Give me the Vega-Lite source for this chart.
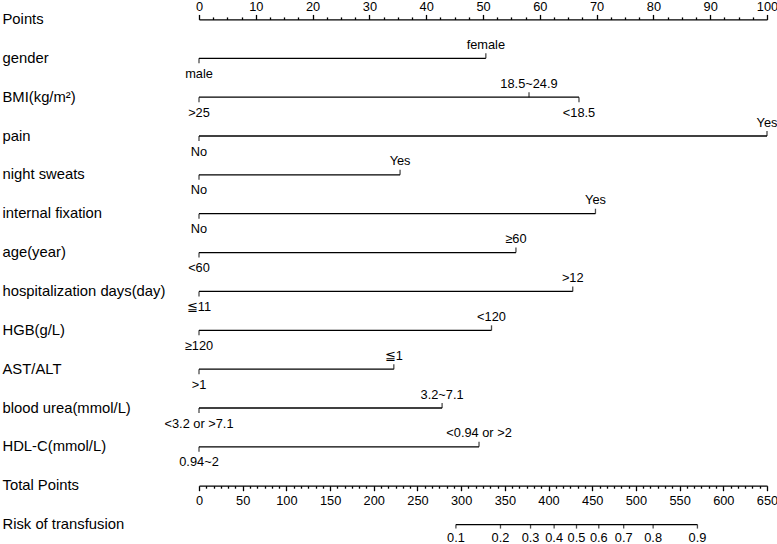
{
  "$schema": "https://vega.github.io/schema/vega-lite/v6.json",
  "width": 568,
  "height": 544,
  "autosize": {"type": "none"},
  "padding": {"left": 199, "right": 10, "top": 0, "bottom": 0},
  "background": "white",
  "config": {"view": {"stroke": null}, "font": "Liberation Sans"},
  "datasets": {
    "levels": [
      {"row": "gender", "level": "male", "points": 0, "side": "below"},
      {"row": "gender", "level": "female", "points": 50.5, "side": "above"},
      {"row": "BMI(kg/m²)", "level": ">25", "points": 0, "side": "below"},
      {"row": "BMI(kg/m²)", "level": "18.5~24.9", "points": 58.1, "side": "above"},
      {"row": "BMI(kg/m²)", "level": "<18.5", "points": 66.9, "side": "below"},
      {"row": "pain", "level": "No", "points": 0, "side": "below"},
      {"row": "pain", "level": "Yes", "points": 100, "side": "above"},
      {"row": "night sweats", "level": "No", "points": 0, "side": "below"},
      {"row": "night sweats", "level": "Yes", "points": 35.4, "side": "above"},
      {"row": "internal fixation", "level": "No", "points": 0, "side": "below"},
      {"row": "internal fixation", "level": "Yes", "points": 69.8, "side": "above"},
      {"row": "age(year)", "level": "<60", "points": 0, "side": "below"},
      {"row": "age(year)", "level": "≥60", "points": 55.8, "side": "above"},
      {"row": "hospitalization days(day)", "level": "≦11", "points": 0, "side": "below"},
      {"row": "hospitalization days(day)", "level": ">12", "points": 65.8, "side": "above"},
      {"row": "HGB(g/L)", "level": "≥120", "points": 0, "side": "below"},
      {"row": "HGB(g/L)", "level": "<120", "points": 51.5, "side": "above"},
      {"row": "AST/ALT", "level": ">1", "points": 0, "side": "below"},
      {"row": "AST/ALT", "level": "≦1", "points": 34.3, "side": "above"},
      {"row": "blood urea(mmol/L)", "level": "<3.2 or >7.1", "points": 0, "side": "below"},
      {"row": "blood urea(mmol/L)", "level": "3.2~7.1", "points": 42.8, "side": "above"},
      {"row": "HDL-C(mmol/L)", "level": "0.94~2", "points": 0, "side": "below"},
      {"row": "HDL-C(mmol/L)", "level": "<0.94 or >2", "points": 49.3, "side": "above"}
    ],
    "risk": [
      {"row": "Risk of transfusion", "risk": "0.1", "total": 294},
      {"row": "Risk of transfusion", "risk": "0.2", "total": 345},
      {"row": "Risk of transfusion", "risk": "0.3", "total": 379.4},
      {"row": "Risk of transfusion", "risk": "0.4", "total": 406.4},
      {"row": "Risk of transfusion", "risk": "0.5", "total": 432},
      {"row": "Risk of transfusion", "risk": "0.6", "total": 457.5},
      {"row": "Risk of transfusion", "risk": "0.7", "total": 486},
      {"row": "Risk of transfusion", "risk": "0.8", "total": 519.7},
      {"row": "Risk of transfusion", "risk": "0.9", "total": 570.4}
    ]
  },
  "encoding": {
    "y": {
      "field": "row",
      "type": "nominal",
      "scale": {
        "type": "point",
        "padding": 0.5,
        "domain": ["Points", "gender", "BMI(kg/m²)", "pain", "night sweats", "internal fixation", "age(year)", "hospitalization days(day)", "HGB(g/L)", "AST/ALT", "blood urea(mmol/L)", "HDL-C(mmol/L)", "Total Points", "Risk of transfusion"]
      },
      "axis": {
        "orient": "left",
        "title": null,
        "domain": false,
        "ticks": false,
        "tickSize": 0,
        "grid": false,
        "labelAlign": "left",
        "labelBaseline": "middle",
        "labelPadding": 197,
        "labelFont": "Liberation Sans",
        "labelFontSize": 14.8,
        "labelColor": "black",
        "labelLimit": 400
      }
    }
  },
  "layer": [
    {
      "data": {"name": "levels"},
      "mark": {"type": "rule", "color": "black", "strokeWidth": 1.3},
      "encoding": {
        "x": {
          "aggregate": "min",
          "field": "points",
          "type": "quantitative",
          "scale": {"domain": [0, 100], "nice": false, "zero": false},
          "axis": {
            "orient": "top",
            "offset": -19.43,
            "title": null,
            "grid": false,
            "values": [0, 2.5, 5, 7.5, 10, 12.5, 15, 17.5, 20, 22.5, 25, 27.5, 30, 32.5, 35, 37.5, 40, 42.5, 45, 47.5, 50, 52.5, 55, 57.5, 60, 62.5, 65, 67.5, 70, 72.5, 75, 77.5, 80, 82.5, 85, 87.5, 90, 92.5, 95, 97.5, 100],
            "tickSize": {"condition": {"test": "datum.value % 10 === 0", "value": 5}, "value": 2.5},
            "labelExpr": "datum.value % 10 === 0 ? format(datum.value, 'd') : ''",
            "labelPadding": 0.8,
            "labelFont": "Liberation Sans",
            "labelFontSize": 12.8,
            "labelColor": "black",
            "labelFlush": false,
            "labelOverlap": false,
            "labelBound": false,
            "domainColor": "black",
            "domainWidth": 1.3,
            "tickColor": "black",
            "tickWidth": 1.3
          }
        },
        "x2": {"aggregate": "max", "field": "points"}
      }
    },
    {
      "data": {"name": "levels"},
      "transform": [{"filter": "datum.side === 'below'"}],
      "mark": {"type": "tick", "orient": "vertical", "color": "black", "size": 5, "thickness": 1.3, "yOffset": 2.5},
      "encoding": {
        "x": {"field": "points", "type": "quantitative", "scale": {"domain": [0, 100], "nice": false, "zero": false}, "axis": null}
      }
    },
    {
      "data": {"name": "levels"},
      "transform": [{"filter": "datum.side === 'above'"}],
      "mark": {"type": "tick", "orient": "vertical", "color": "black", "size": 5, "thickness": 1.3, "yOffset": -2.5},
      "encoding": {
        "x": {"field": "points", "type": "quantitative", "scale": {"domain": [0, 100], "nice": false, "zero": false}, "axis": null}
      }
    },
    {
      "data": {"name": "levels"},
      "transform": [{"filter": "datum.side === 'below'"}],
      "mark": {"type": "text", "align": "center", "baseline": "middle", "dy": 15.5, "fontSize": 12.8, "font": "Liberation Sans", "color": "black"},
      "encoding": {
        "x": {"field": "points", "type": "quantitative", "scale": {"domain": [0, 100], "nice": false, "zero": false}, "axis": null},
        "text": {"field": "level", "type": "nominal"}
      }
    },
    {
      "data": {"name": "levels"},
      "transform": [{"filter": "datum.side === 'above'"}],
      "mark": {"type": "text", "align": "center", "baseline": "middle", "dy": -13.5, "fontSize": 12.8, "font": "Liberation Sans", "color": "black"},
      "encoding": {
        "x": {"field": "points", "type": "quantitative", "scale": {"domain": [0, 100], "nice": false, "zero": false}, "axis": null},
        "text": {"field": "level", "type": "nominal"}
      }
    },
    {
      "data": {"name": "risk"},
      "mark": {"type": "rule", "color": "black", "strokeWidth": 1.3},
      "encoding": {
        "x": {
          "aggregate": "min",
          "field": "total",
          "type": "quantitative",
          "scale": {"domain": [0, 650], "nice": false, "zero": false},
          "axis": {
            "orient": "bottom",
            "offset": -58.3,
            "title": null,
            "grid": false,
            "values": [0, 8.3333, 16.6667, 25, 33.3333, 41.6667, 50, 58.3333, 66.6667, 75, 83.3333, 91.6667, 100, 108.3333, 116.6667, 125, 133.3333, 141.6667, 150, 158.3333, 166.6667, 175, 183.3333, 191.6667, 200, 208.3333, 216.6667, 225, 233.3333, 241.6667, 250, 258.3333, 266.6667, 275, 283.3333, 291.6667, 300, 308.3333, 316.6667, 325, 333.3333, 341.6667, 350, 358.3333, 366.6667, 375, 383.3333, 391.6667, 400, 408.3333, 416.6667, 425, 433.3333, 441.6667, 450, 458.3333, 466.6667, 475, 483.3333, 491.6667, 500, 508.3333, 516.6667, 525, 533.3333, 541.6667, 550, 558.3333, 566.6667, 575, 583.3333, 591.6667, 600, 608.3333, 616.6667, 625, 633.3333, 641.6667, 650],
            "tickSize": {"condition": {"test": "datum.value % 50 === 0", "value": 5}, "value": 2.5},
            "labelExpr": "datum.value % 50 === 0 ? format(datum.value, 'd') : ''",
            "labelPadding": 4,
            "labelFont": "Liberation Sans",
            "labelFontSize": 12.8,
            "labelColor": "black",
            "labelFlush": false,
            "labelOverlap": false,
            "labelBound": false,
            "domainColor": "black",
            "domainWidth": 1.3,
            "tickColor": "black",
            "tickWidth": 1.3
          }
        },
        "x2": {"aggregate": "max", "field": "total"}
      }
    },
    {
      "data": {"name": "risk"},
      "mark": {"type": "tick", "orient": "vertical", "color": "black", "size": 4, "thickness": 1.3, "yOffset": 2},
      "encoding": {
        "x": {"field": "total", "type": "quantitative", "scale": {"domain": [0, 650], "nice": false, "zero": false}, "axis": null}
      }
    },
    {
      "data": {"name": "risk"},
      "mark": {"type": "text", "align": "center", "baseline": "middle", "dy": 13.2, "fontSize": 12.8, "font": "Liberation Sans", "color": "black"},
      "encoding": {
        "x": {"field": "total", "type": "quantitative", "scale": {"domain": [0, 650], "nice": false, "zero": false}, "axis": null},
        "text": {"field": "risk", "type": "nominal"}
      }
    }
  ],
  "resolve": {"scale": {"x": "independent"}, "axis": {"x": "independent"}}
}
